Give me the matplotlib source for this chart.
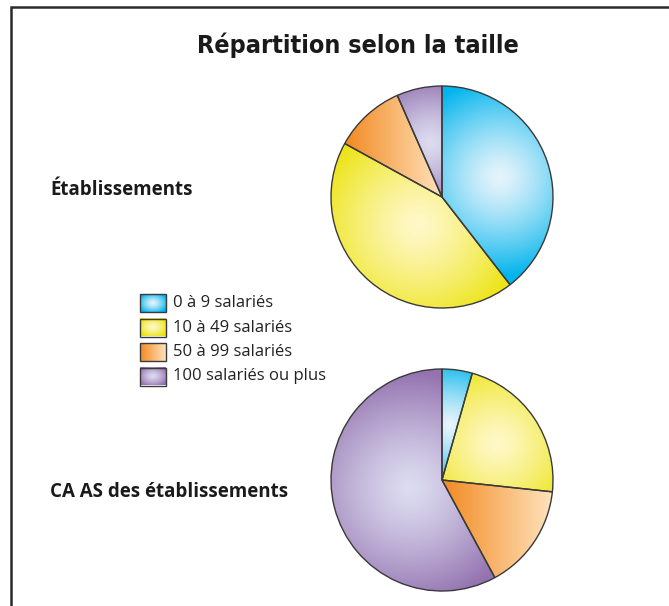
import numpy as np
import matplotlib.pyplot as plt
from matplotlib.colors import to_rgb

categories = ["0 à 9 salariés", "10 à 49 salariés", "50 à 99 salariés", "100 salariés ou plus"]
etablissements = [39.5, 43.5, 10.4, 6.6]
ca_as = [4.4, 22.3, 15.4, 57.9]
titles = ["Établissements", "CA AS des établissements"]

dark = ["#00b4ec", "#ebe309", "#f28a22", "#9473b0"]
light = ["#e6f4fc", "#fff8c8", "#ffe2bc", "#dcdcf0"]

W, H = 669, 606
fig = plt.figure(figsize=(W / 100, H / 100), dpi=100)
ax = fig.add_axes([0, 0, 1, 1])


def blend(d, c0, c1):
    a, b = np.array(to_rgb(c0)), np.array(to_rgb(c1))
    return a + (b - a) * d[..., None]


def radial(cx, cy, rx, ry, hx, hy, spread, c0, c1, n=300):
    X, Y = np.meshgrid(np.linspace(cx - rx, cx + rx, n), np.linspace(cy - ry, cy + ry, n))
    d = np.clip(np.hypot((X - hx) / spread[0], (Y - hy) / spread[1]), 0, 1) ** 1.3
    return blend(d, c0, c1)


def linear(cx, cy, rx, ry, x0, x1, c0, c1, n=300):
    X, Y = np.meshgrid(np.linspace(cx - rx, cx + rx, n), np.linspace(cy - ry, cy + ry, n))
    d = 1 - np.clip((X - x0) / (x1 - x0), 0, 1)
    return blend(d, c0, c1)


def draw_pie(values, center, r, hl):
    wedges, _ = ax.pie(values, colors=dark, startangle=90, counterclock=False,
                       center=center, radius=r,
                       wedgeprops=dict(edgecolor="#3a3a3a", linewidth=1.0))
    cx, cy = center
    for i, w in enumerate(wedges):
        if i == 2:
            t = np.deg2rad(np.linspace(w.theta1, w.theta2, 100))
            xs = np.r_[cx, cx + r * np.cos(t)]
            img = linear(cx, cy, r, r, xs.min(), xs.max(), light[i], dark[i])
        else:
            mid = np.deg2rad((w.theta1 + w.theta2) / 2)
            f, s = hl[i]
            hx = cx + f * r * np.cos(mid)
            hy = cy + f * r * np.sin(mid)
            img = radial(cx, cy, r, r, hx, hy, (s * r, s * r), light[i], dark[i])
        im = ax.imshow(img, extent=(cx - r, cx + r, cy - r, cy + r),
                       origin="lower", zorder=1, interpolation="bilinear")
        im.set_clip_path(w)
        w.set_facecolor("none")
        w.set_zorder(2)


draw_pie(etablissements, (442, H - 197), 111, [(0.55, 0.9), (0.33, 1.0), None, (0.5, 0.6)])
draw_pie(ca_as, (442, H - 480), 111, [(0.5, 0.6), (0.6, 0.8), None, (0.3, 1.05)])

# legend with gradient boxes
for i, lab in enumerate(categories):
    x0, bw, bh = 140, 26, 18
    y0 = H - (294 + 24.5 * i) - bh
    xc, yc = x0 + bw / 2, y0 + bh / 2
    if i == 2:
        img = linear(xc, yc, bw / 2, bh / 2, x0, x0 + bw, light[i], dark[i], n=60)
    else:
        img = radial(xc, yc, bw / 2, bh / 2, xc, yc, (bw * 0.6, bh * 0.6), light[i], dark[i], n=60)
    ax.imshow(img, extent=(x0, x0 + bw, y0, y0 + bh), origin="lower", zorder=1, aspect="auto")
    ax.add_patch(plt.Rectangle((x0, y0), bw, bh, fill=False, edgecolor="#3a3a3a", lw=1, zorder=2))
    ax.text(173, yc, lab, fontsize=12, va="center", ha="left", color="#222222",
            family=["Open Sans", "DejaVu Sans"])

ax.text(358, H - 45, "Répartition selon la taille", fontsize=18, fontweight="bold",
        fontstretch="condensed", ha="center", va="center", color="#1a1a1a",
        family=["DejaVu Sans"])
ax.text(50, H - 190, titles[0], fontsize=13.5, fontweight="bold", va="center", color="#1a1a1a",
        family=["Open Sans", "DejaVu Sans"])
ax.text(50, H - 492, titles[1], fontsize=13.5, fontweight="bold", va="center", color="#1a1a1a",
        family=["Open Sans", "DejaVu Sans"])

# frame
ax.plot([11, 11, W], [0, H - 7, H - 7], color="#2a2a2a", lw=1.8, solid_joinstyle="miter")

ax.set_xlim(0, W)
ax.set_ylim(0, H)
ax.set_aspect("auto")
ax.axis("off")
fig.savefig("out.png", dpi=100)
